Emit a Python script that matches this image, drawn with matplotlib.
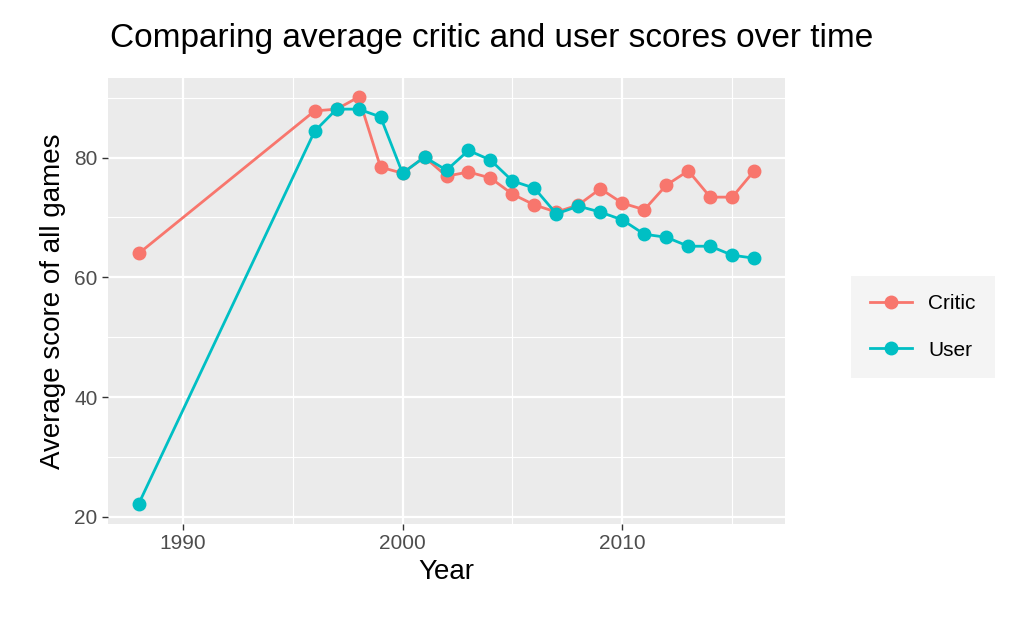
import matplotlib
matplotlib.use('Agg')
import matplotlib.pyplot as plt
from matplotlib.lines import Line2D

plt.rcParams['font.family'] = ['Liberation Sans', 'DejaVu Sans']

years = [1988, 1996, 1997, 1998, 1999, 2000, 2001, 2002, 2003, 2004, 2005, 2006,
         2007, 2008, 2009, 2010, 2011, 2012, 2013, 2014, 2015, 2016]
critic = [64.0, 87.8, 88.1, 90.1, 78.4, 77.4, 80.1, 76.9, 77.6, 76.6, 73.9, 72.1,
          70.9, 72.1, 74.8, 72.4, 71.3, 75.4, 77.8, 73.4, 73.4, 77.8]
user = [22.2, 84.4, 88.1, 88.1, 86.8, 77.4, 80.1, 77.9, 81.2, 79.6, 76.1, 74.9,
        70.6, 71.9, 70.9, 69.6, 67.2, 66.7, 65.2, 65.2, 63.7, 63.2]

red, teal = '#F8766D', '#00BFC4'

fig = plt.figure(figsize=(10.2, 6.3), dpi=100)
ax = fig.add_axes([108/1020, 1-524/630, 677/1020, 446/630])
ax.set_facecolor('#EBEBEB')
for s in ax.spines.values():
    s.set_visible(False)

ax.set_xlim(1986.6, 2017.4)
ax.set_ylim(18.8, 93.3)
ax.set_xticks([1990, 2000, 2010])
ax.set_yticks([20, 40, 60, 80])
ax.set_xticks([1995, 2005, 2015], minor=True)
ax.set_yticks([30, 50, 70, 90], minor=True)
ax.grid(True, which='major', color='white', lw=1.6)
ax.grid(True, which='minor', color='white', lw=0.8)
ax.set_axisbelow(True)
ax.tick_params(which='major', colors='#333333', labelsize=15, length=4, width=1)
ax.tick_params(which='minor', length=0)
ax.tick_params(axis='both', labelcolor='#4D4D4D')

ax.plot(years, critic, color=red, lw=2, marker='o', ms=9, zorder=3)
ax.plot(years, user, color=teal, lw=2, marker='o', ms=9, zorder=3)

ax.set_xlabel('Year', fontsize=20, labelpad=4)
ax.set_ylabel('Average score of all games', fontsize=20, labelpad=6)
fig.text(110/1020, 1-38/630, 'Comparing average critic and user scores over time',
         fontsize=24, va='center', ha='left')

handles = [Line2D([], [], color=red, lw=2, marker='o', ms=9),
           Line2D([], [], color=teal, lw=2, marker='o', ms=9)]
leg = fig.legend(handles, ['Critic', 'User'], loc='center left',
                 bbox_to_anchor=(841/1020, 1-327/630), frameon=True,
                 fontsize=15, handlelength=2, labelspacing=1.3, borderpad=0.9)
leg.get_frame().set_facecolor('#F2F2F2')
leg.get_frame().set_edgecolor('none')
leg.get_frame().set_boxstyle('square', pad=0)

fig.savefig('out.png', dpi=100)
